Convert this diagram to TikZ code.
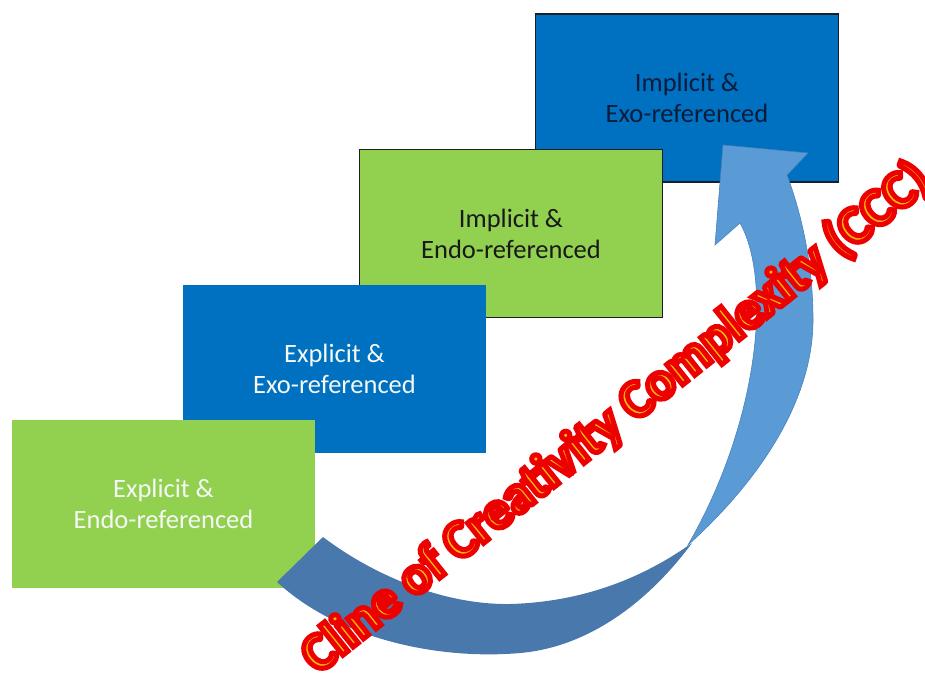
\documentclass[tikz,border=0pt]{standalone}
\usepackage{fontspec}
\setmainfont{Carlito}
\definecolor{cgreen}{RGB}{146,208,80}
\definecolor{cblue}{RGB}{0,112,192}
\definecolor{cedge}{RGB}{25,30,40}
\definecolor{cdark}{RGB}{25,25,25}
\definecolor{cnavy}{RGB}{12,28,58}
\definecolor{cwhite}{RGB}{245,248,245}
\definecolor{arrowdark}{RGB}{72,120,172}
\definecolor{arrowlight}{RGB}{91,155,213}
\definecolor{arrowedge}{RGB}{70,130,190}
\definecolor{corange}{RGB}{255,185,0}
\begin{document}
\begin{tikzpicture}[x=1pt,y=-1pt,
  box/.style={minimum width=303pt, minimum height=168pt, inner sep=0pt, align=center,
    font=\fontsize{26.5}{31}\selectfont},
  greenbox/.style={box, fill=cgreen},
  bluebox/.style={box, fill=cblue},
  edged/.style={draw=cedge, line width=1.5pt},
  wordart/.style={inner sep=0pt, text=corange, font=\bfseries\fontsize{53.5}{60}\selectfont}]
\useasboundingbox (0,0) rectangle (925,673);
\node[bluebox, edged, text=cnavy] (b4) at (687,98) {Implicit \&\\Exo-referenced};
\node[greenbox, edged, text=cdark] (b3) at (511,233.5) {Implicit \&\\Endo-referenced};
\node[bluebox, text=cwhite] (b2) at (334.5,368.5) {Explicit \&\\Exo-referenced};
\node[greenbox, text=cwhite] (b1) at (163.5,504) {Explicit \&\\Endo-referenced};
% curved arrow: dark back band
\fill[arrowdark] (277,582) .. controls (340,640) and (440,660) .. (520,653)
  .. controls (590,647) and (650,600) .. (692,543)
  .. controls (640,580) and (580,602) .. (510,604)
  .. controls (450,605) and (380,580) .. (323,537) -- cycle;
% curved arrow: light front body with head
\filldraw[fill=arrowlight, draw=arrowedge, line width=0.6pt] (688,545)
  .. controls (760,480) and (813,400) .. (813,320)
  .. controls (813,260) and (800,210) .. (787,175)
  -- (808,153) -- (723,145) -- (715,245) -- (740,223)
  .. controls (772,280) and (760,420) .. (688,545) -- cycle;
\node[wordart, rotate=38.5] (ccc) at (616,418)
  {\special{pdf:literal direct 2 Tr 5 w 0.93 0 0 RG}Cline of Creativity Complexity (CCC)\special{pdf:literal direct 0 Tr}};
\end{tikzpicture}
\end{document}
